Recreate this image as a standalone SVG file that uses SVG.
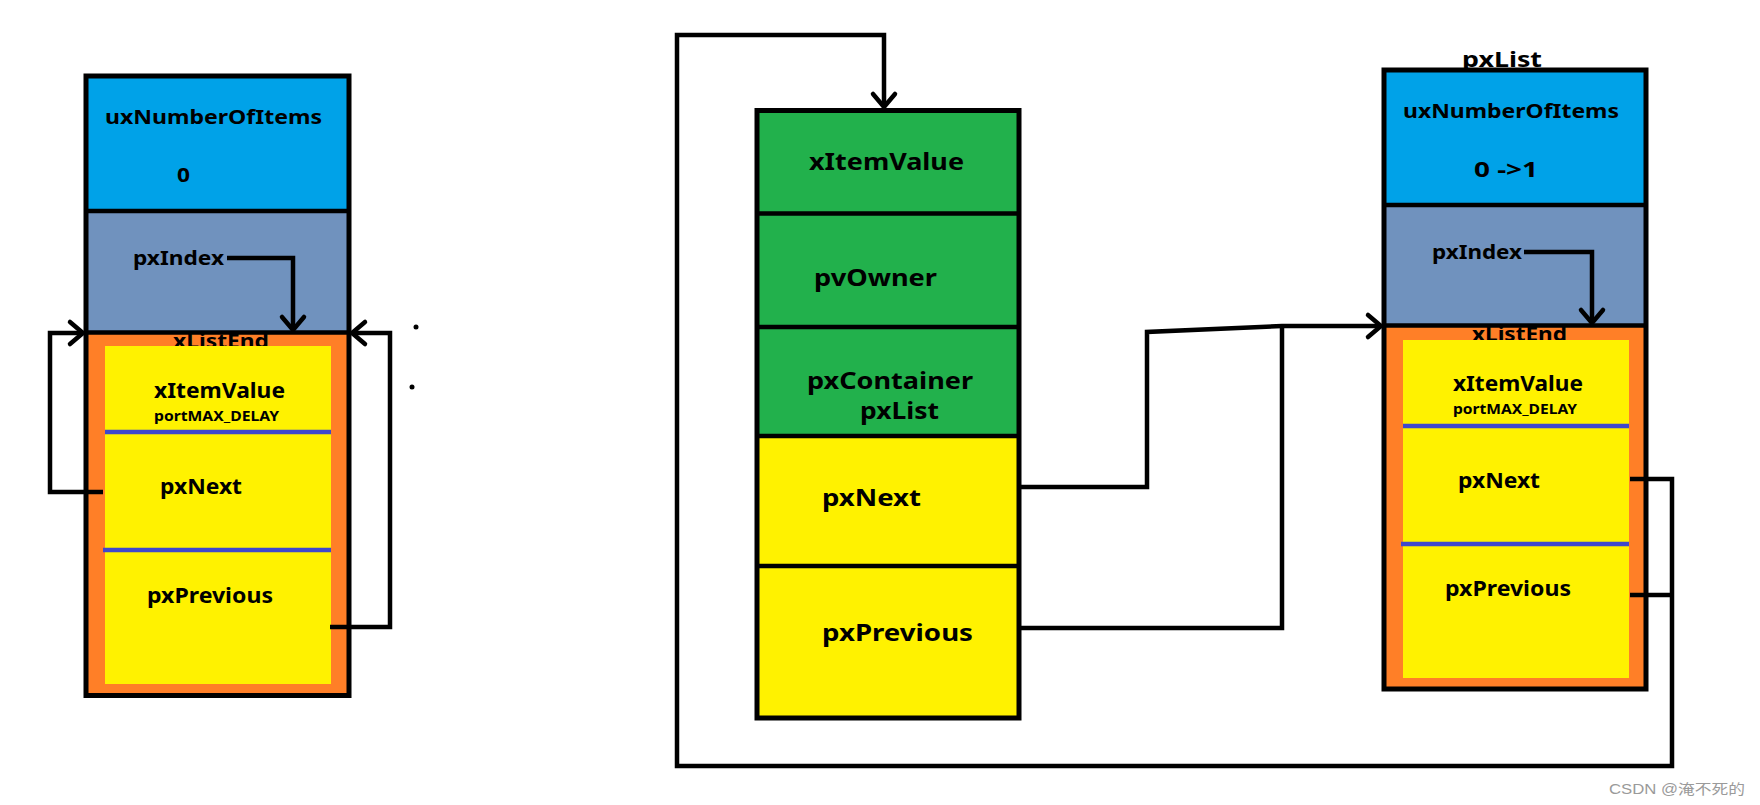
<svg xmlns="http://www.w3.org/2000/svg" width="1760" height="805" viewBox="0 0 1760 805">
<style>
.t{font-family:"Noto Sans","Open Sans","Liberation Sans",sans-serif;font-weight:bold;fill:#000;}
.s20{font-size:20px}.s21{font-size:21px}.s15{font-size:15px}.s24{font-size:24px}.s22{font-size:22px}
.ol{fill:none;stroke:#000;stroke-width:5}
.dv{stroke:#000;stroke-width:4.5}
.bl{stroke:#3f48cc;stroke-width:4.5}
.cn{fill:none;stroke:#000;stroke-width:4.5;stroke-linejoin:miter}
.arr{marker-end:url(#ah)}
.sky{fill:#00a2e8}.gry{fill:#7092be}.org{fill:#ff7f27}.yel{fill:#fff200}.grn{fill:#22b14c}
.wm{font-family:"Liberation Sans","Noto Sans CJK SC",sans-serif;font-size:14px;fill:#9a9a9a}
</style>
<defs>
<marker id="ah" markerUnits="userSpaceOnUse" markerWidth="30" markerHeight="30" refX="0" refY="0" orient="auto" overflow="visible">
<path d="M-13,-11 L0,0 L-13,11" fill="none" stroke="#000" stroke-width="4.5" stroke-linecap="round"/>
</marker>
</defs>
<rect width="1760" height="805" fill="#fff"/>

<g id="list-empty">
<rect class="sky" x="86" y="76" width="263" height="135"/>
<rect class="gry" x="86" y="211" width="263" height="121"/>
<rect class="org" x="86" y="332" width="263" height="363"/>
<line class="dv" x1="84" y1="211" x2="351" y2="211"/>
<line class="dv" x1="84" y1="332.5" x2="351" y2="332.5"/>
<rect class="ol" x="86" y="76" width="263" height="619.5"/>
<text class="t s20" x="173" y="348" textLength="96" lengthAdjust="spacingAndGlyphs">xListEnd</text>
<rect class="yel" x="105" y="346" width="226" height="338"/>
<line class="bl" x1="105" y1="432" x2="331" y2="432"/>
<line class="bl" x1="103" y1="550" x2="331" y2="550"/>
<text class="t s20" x="105" y="124" textLength="217" lengthAdjust="spacingAndGlyphs">uxNumberOfItems</text>
<text class="t s20" x="177" y="182" textLength="13" lengthAdjust="spacingAndGlyphs">0</text>
<text class="t s20" x="133" y="265" textLength="91" lengthAdjust="spacingAndGlyphs">pxIndex</text>
<text class="t s21" x="154" y="398" textLength="131" lengthAdjust="spacingAndGlyphs">xItemValue</text>
<text class="t s15" x="154" y="421" textLength="125" lengthAdjust="spacingAndGlyphs">portMAX_DELAY</text>
<text class="t s21" x="160" y="494" textLength="82" lengthAdjust="spacingAndGlyphs">pxNext</text>
<text class="t s21" x="147" y="603" textLength="126" lengthAdjust="spacingAndGlyphs">pxPrevious</text>
</g>

<g id="list-item">
<rect class="grn" x="757" y="110.5" width="262" height="325.5"/>
<rect class="yel" x="757" y="436" width="262" height="282"/>
<line class="dv" x1="755" y1="213.5" x2="1019" y2="213.5"/>
<line class="dv" x1="755" y1="327" x2="1019" y2="327"/>
<line class="dv" x1="755" y1="436" x2="1019" y2="436"/>
<line class="dv" x1="755" y1="566" x2="1019" y2="566"/>
<rect class="ol" x="757" y="110.5" width="262" height="607.5"/>
<text class="t s24" x="809" y="170" textLength="155" lengthAdjust="spacingAndGlyphs">xItemValue</text>
<text class="t s24" x="814" y="286" textLength="123" lengthAdjust="spacingAndGlyphs">pvOwner</text>
<text class="t s24" x="807" y="389" textLength="166" lengthAdjust="spacingAndGlyphs">pxContainer</text>
<text class="t s24" x="860" y="419" textLength="79" lengthAdjust="spacingAndGlyphs">pxList</text>
<text class="t s24" x="822" y="506" textLength="99" lengthAdjust="spacingAndGlyphs">pxNext</text>
<text class="t s24" x="822" y="641" textLength="151" lengthAdjust="spacingAndGlyphs">pxPrevious</text>
</g>

<g id="list-one">
<text class="t s22" x="1462" y="67" textLength="80" lengthAdjust="spacingAndGlyphs">pxList</text>
<rect class="sky" x="1384" y="70" width="262" height="135"/>
<rect class="gry" x="1384" y="205" width="262" height="120.5"/>
<rect class="org" x="1384" y="325.5" width="262" height="363.5"/>
<line class="dv" x1="1382" y1="205" x2="1648" y2="205"/>
<line class="dv" x1="1382" y1="325.5" x2="1648" y2="325.5"/>
<rect class="ol" x="1384" y="70" width="262" height="619"/>
<text class="t s20" x="1472" y="341" textLength="95" lengthAdjust="spacingAndGlyphs">xListEnd</text>
<rect class="yel" x="1403" y="340" width="226" height="338"/>
<line class="bl" x1="1403" y1="426" x2="1629" y2="426"/>
<line class="bl" x1="1401" y1="544" x2="1629" y2="544"/>
<text class="t s20" x="1403" y="118" textLength="216" lengthAdjust="spacingAndGlyphs">uxNumberOfItems</text>
<text class="t s22" x="1474" y="177" textLength="64" lengthAdjust="spacingAndGlyphs">0 -&gt;1</text>
<text class="t s20" x="1432" y="259" textLength="90" lengthAdjust="spacingAndGlyphs">pxIndex</text>
<text class="t s21" x="1453" y="391" textLength="130" lengthAdjust="spacingAndGlyphs">xItemValue</text>
<text class="t s15" x="1453" y="414" textLength="124" lengthAdjust="spacingAndGlyphs">portMAX_DELAY</text>
<text class="t s21" x="1458" y="488" textLength="82" lengthAdjust="spacingAndGlyphs">pxNext</text>
<text class="t s21" x="1445" y="596" textLength="126" lengthAdjust="spacingAndGlyphs">pxPrevious</text>
</g>

<g id="connectors">
<path class="cn arr" d="M227,258 H293 V330"/>
<path class="cn arr" d="M103,492 H50 V333 H83"/>
<path class="cn arr" d="M330,627 H390 V333 H352"/>
<path class="cn arr" d="M1524,252 H1592 V323"/>
<path class="cn arr" d="M1017,487 H1147 V332 L1282,326 H1381"/>
<path class="cn" d="M1021,628 H1282 V326"/>
<path class="cn arr" d="M1630,479 H1672 V766 H677 V35 H884 V107"/>
<path class="cn" d="M1630,595 H1672"/>
<circle cx="416" cy="327" r="2.5" fill="#000"/>
<circle cx="412" cy="387" r="2.5" fill="#000"/>
</g>

<text class="wm" x="1609" y="794" textLength="136" lengthAdjust="spacingAndGlyphs">CSDN @淹不死的</text>
</svg>
